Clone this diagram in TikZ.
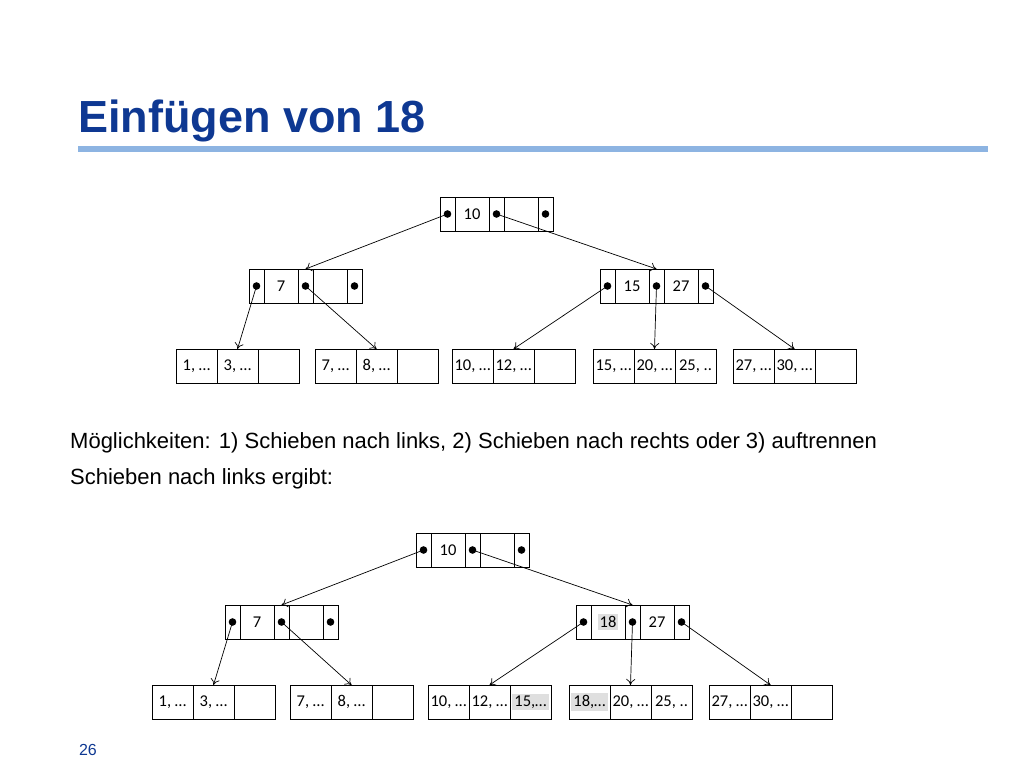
\documentclass[tikz,border=0pt]{standalone}
\usepackage{fontspec}
\setmainfont{Liberation Sans}
\newfontfamily\cellfont{Carlito}
\usetikzlibrary{positioning,arrows.meta}
\definecolor{titleblue}{RGB}{14,56,146}
\definecolor{ruleblue}{RGB}{141,180,226}

\tikzset{
  cell/.style={draw, line width=0.8pt, minimum height=34pt, inner sep=0pt, outer sep=0pt, font=\cellfont\fontsize{16.5}{18}\selectfont},
  ptr/.style={cell, minimum width=15pt},
  keycell/.style={cell, minimum width=34pt},
  leafcell/.style={cell, minimum width=41pt},
  link/.style={-{To[length=6pt,width=9pt]}, line width=0.7pt}
}
\newcommand\hl[1]{{\setlength\fboxsep{2pt}\colorbox{gray!25}{#1}}}

% inner node: name, x, y, key1, key2
\newcommand\innernode[5]{%
  \node[ptr, anchor=north west] (#1p1) at (#2,#3) {};
  \node[keycell, right=0pt of #1p1] (#1k1) {#4};
  \node[ptr, right=0pt of #1k1] (#1p2) {};
  \node[keycell, right=0pt of #1p2] (#1k2) {#5};
  \node[ptr, right=0pt of #1k2] (#1p3) {};
  \foreach \i in {1,2,3} \fill (#1p\i) circle (3.8pt);
}
% leaf node: name, x, y, three entries
\newcommand\leafnode[6]{%
  \node[leafcell, anchor=north west] (#1c1) at (#2,#3) {#4};
  \node[leafcell, right=0pt of #1c1] (#1c2) {#5};
  \node[leafcell, right=0pt of #1c2] (#1c3) {#6};
}

\begin{document}
\begin{tikzpicture}[x=1pt, y=-1pt]
  \useasboundingbox (0,0) rectangle (1024,768);

  % Title
  \node[anchor=west, inner sep=0pt, font=\bfseries\fontsize{45}{50}\selectfont, text=titleblue] (title) at (78,121) {Einfügen von 18};
  \fill[ruleblue] (78,146) rectangle (988,152);

  % Tree before
  \innernode{r}{440}{197}{10}{}
  \innernode{a}{249}{269}{7}{}
  \innernode{b}{600}{269}{15}{27}
  \leafnode{la}{176}{349}{1, …}{3, …}{}
  \leafnode{lb}{315}{349}{7, …}{8, …}{}
  \leafnode{lc}{452}{349}{10, …}{12, …}{}
  \leafnode{ld}{593}{349}{15, …}{20, …}{25, ..}
  \leafnode{le}{733}{349}{27, …}{30, …}{}

  \draw[link] (rp1.center) -- (ap2.north);
  \draw[link] (rp2.center) -- (bp2.north);
  \draw[link] (ap1.center) -- (lac2.north);
  \draw[link] (ap2.center) -- (lbc2.north);
  \draw[link] (bp1.center) -- (lcc2.north);
  \draw[link] (bp2.center) -- (ldc2.north);
  \draw[link] (bp3.center) -- (lec2.north);

  % Text
  \node[anchor=west, inner sep=0pt, font=\fontsize{22}{25}\selectfont] (txta) at (70,443) {Möglichkeiten: 1) Schieben nach links, 2) Schieben nach rechts oder 3) auftrennen};
  \node[anchor=west, inner sep=0pt, font=\fontsize{22}{25}\selectfont] (txtb) at (70,479) {Schieben nach links ergibt:};

  % Tree after
  \innernode{s}{416}{533}{10}{}
  \innernode{c}{225}{605}{7}{}
  \innernode{d}{576}{605}{\hl{18}}{27}
  \leafnode{ma}{152}{685}{1, …}{3, …}{}
  \leafnode{mb}{290}{685}{7, …}{8, …}{}
  \leafnode{mc}{428}{685}{10, …}{12, …}{\hl{15,…}}
  \leafnode{md}{569}{685}{\hl{18,…}}{20, …}{25, ..}
  \leafnode{me}{709}{685}{27, …}{30, …}{}

  \draw[link] (sp1.center) -- (cp2.north);
  \draw[link] (sp2.center) -- (dp2.north);
  \draw[link] (cp1.center) -- (mac2.north);
  \draw[link] (cp2.center) -- (mbc2.north);
  \draw[link] (dp1.center) -- (mcc2.north);
  \draw[link] (dp2.center) -- (mdc2.north);
  \draw[link] (dp3.center) -- (mec2.north);

  % Page number
  \node[font=\fontsize{16}{18}\selectfont, text=titleblue] (page) at (88,750) {26};
\end{tikzpicture}
\end{document}
